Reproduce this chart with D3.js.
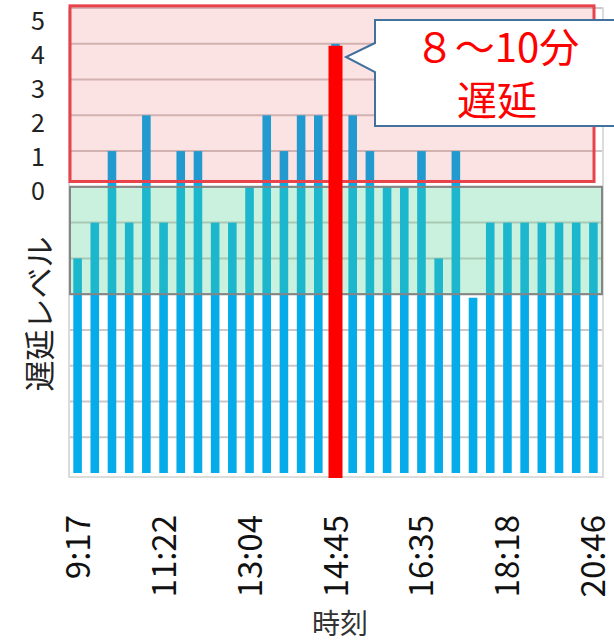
<!DOCTYPE html>
<html>
<head>
<meta charset="utf-8">
<script src="https://cdn.jsdelivr.net/npm/d3@7"></script>
<style>
  body { margin: 0; background: #fff; }
  text { font-family: "Noto Sans CJK JP", "Noto Sans", sans-serif; }
</style>
</head>
<body>
<script>
const width = 614;
const height = 643;

// delay level of each time slot (0 = on time line, below 0 = early)
var levels = [-2, -1, 1, -1, 2, -1, 1, 1, -1, -1, 0, 2, 1, 2, 2, 4, 2, 1, 0, 0, 1, -2, 1, -3.1, -1, -1, -1, -1, -1, -1, -1];

// only every fifth slot gets a label
var tickIndex = [0, 5, 10, 15, 20, 25, 30];
var tickLabels = ["9:17", "11:22", "13:04", "14:45", "16:35", "18:18", "20:46"];

// level labels written next to the plot
var levelLabels = ["5", "4", "3", "2", "1", "0"];

// the highlighted slot
var highlight = 15;
var calloutLines = ["８～10分", "遅延"];

var svg = d3.select("body")
  .append("svg")
  .attr("width", width)
  .attr("height", height);

var x = d3.scaleBand()
  .domain(d3.range(levels.length))
  .range([69, 602])
  .paddingInner(0.5)
  .paddingOuter(0.25);

var y = d3.scaleLinear()
  .domain([-8, 5])
  .range([473, 8]);

// plot frame
svg.append("rect")
  .attr("x", 69).attr("y", 8)
  .attr("width", 534).attr("height", 469)
  .attr("fill", "#fff")
  .attr("stroke", "#d0d0d0")
  .attr("stroke-width", 1.5);

// gridlines
svg.append("g")
  .selectAll("line")
  .data(d3.range(-7, 6))
  .enter()
  .append("line")
  .attr("x1", 70).attr("x2", 602)
  .attr("y1", d => y(d)).attr("y2", d => y(d))
  .attr("stroke", "#cfc6c6")
  .attr("stroke-width", 2);

// bars
svg.append("g")
  .selectAll("rect")
  .data(levels)
  .enter()
  .append("rect")
  .attr("x", (d, i) => x(i))
  .attr("width", x.bandwidth())
  .attr("y", d => y(d))
  .attr("height", d => y(-8) - y(d))
  .attr("fill", "#06ace9");

// delay zone (pink) and on-time zone (green)
svg.append("rect")
  .attr("x", 70).attr("y", y(5.06))
  .attr("width", 524).attr("height", y(0.15) - y(5.06))
  .attr("fill", "rgb(232,40,40)")
  .attr("fill-opacity", 0.13)
  .attr("stroke", "#e8434b")
  .attr("stroke-width", 3);

svg.append("rect")
  .attr("x", 70).attr("y", y(0))
  .attr("width", 532).attr("height", y(-3) - y(0))
  .attr("fill", "rgb(80,207,143)")
  .attr("fill-opacity", 0.3)
  .attr("stroke", "#858585")
  .attr("stroke-width", 2);

// cut off text box at the very top
svg.append("rect")
  .attr("x", 137).attr("y", 0)
  .attr("width", 333).attr("height", 4)
  .attr("fill", "#fff");

// red marker on the highlighted slot
var cx = x(highlight) + x.bandwidth() / 2;
svg.append("rect")
  .attr("x", cx - 7)
  .attr("y", y(levels[highlight]) + 2)
  .attr("width", 14)
  .attr("height", 478 - y(levels[highlight]) - 2)
  .attr("fill", "#ff0000");

// callout
svg.append("path")
  .attr("d", "M375,20 H622 V126 H375 V72 L346,57 L375,43 Z")
  .attr("fill", "#fff")
  .attr("stroke", "#41719c")
  .attr("stroke-width", 2);

svg.append("g")
  .selectAll("text")
  .data(calloutLines)
  .enter()
  .append("text")
  .attr("x", 497)
  .attr("y", (d, i) => 62 + i * 53)
  .attr("text-anchor", "middle")
  .attr("font-size", 40)
  .attr("fill", "#ff0000")
  .text(d => d);

// level labels
var ly = d3.scalePoint().domain(levelLabels).range([21, 191]);
svg.append("g")
  .selectAll("text")
  .data(levelLabels)
  .enter()
  .append("text")
  .attr("x", 38)
  .attr("y", d => ly(d))
  .attr("dy", "0.36em")
  .attr("text-anchor", "middle")
  .attr("font-size", 25)
  .attr("fill", "#222")
  .text(d => d);

// time labels, rotated
svg.append("g")
  .selectAll("text")
  .data(tickIndex)
  .enter()
  .append("text")
  .attr("transform", (d, i) => "translate(" + (x(d) + x.bandwidth() / 2 + 12) + ",515) rotate(-90)")
  .attr("text-anchor", "end")
  .attr("font-size", 33)
  .attr("fill", "#111")
  .text((d, i) => tickLabels[i]);

// axis titles
svg.append("text")
  .attr("transform", "translate(51,314) rotate(-90)")
  .attr("text-anchor", "middle")
  .attr("font-size", 31)
  .attr("fill", "#222")
  .text("遅延レベル");

svg.append("text")
  .attr("x", 340)
  .attr("y", 634)
  .attr("text-anchor", "middle")
  .attr("font-size", 28)
  .attr("fill", "#333")
  .text("時刻");
</script>
</body>
</html>
